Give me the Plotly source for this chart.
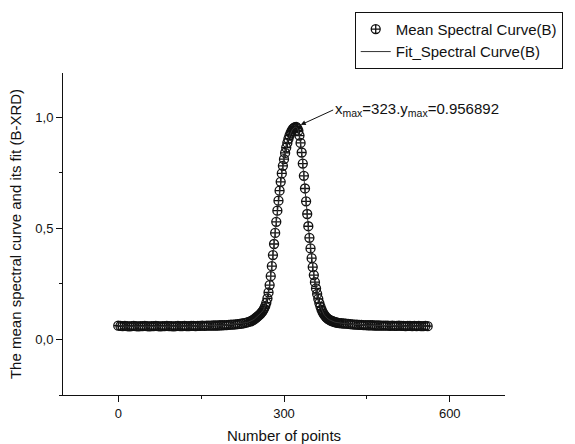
import plotly.graph_objects as go

# ---- data ----
x_points = list(range(0, 241, 4)) + list(range(242, 401, 2)) + list(range(404, 561, 4))

mean_curve = [
    # 0 .. 240 step 4
    0.062, 0.061, 0.060, 0.061, 0.060, 0.059, 0.060, 0.061, 0.060, 0.059,
    0.060, 0.060, 0.061, 0.060, 0.059, 0.060, 0.060, 0.061, 0.060, 0.059,
    0.060, 0.060, 0.061, 0.060, 0.060, 0.059, 0.060, 0.061, 0.060, 0.060,
    0.061, 0.060, 0.060, 0.061, 0.061, 0.060, 0.061, 0.061, 0.062, 0.061,
    0.062, 0.062, 0.062, 0.063, 0.063, 0.063, 0.064, 0.064, 0.065, 0.065,
    0.066, 0.067, 0.067, 0.068, 0.069, 0.070, 0.072, 0.074, 0.076, 0.079,
    0.082,
    # 242 .. 400 step 2
    0.085, 0.088, 0.091, 0.095, 0.099, 0.103, 0.107, 0.112, 0.117, 0.123,
    0.130, 0.139, 0.150, 0.165, 0.185, 0.212, 0.245, 0.285, 0.330, 0.380,
    0.430, 0.480, 0.530, 0.580, 0.625, 0.670, 0.710, 0.748, 0.782, 0.812,
    0.840, 0.864, 0.885, 0.903, 0.918, 0.930, 0.940, 0.948, 0.953, 0.956,
    0.957, 0.952, 0.940, 0.918, 0.885, 0.842, 0.792, 0.737, 0.680, 0.622,
    0.565, 0.510, 0.458, 0.410, 0.366, 0.326, 0.290, 0.258, 0.230, 0.205,
    0.183, 0.164, 0.148, 0.134, 0.123, 0.114, 0.107, 0.101, 0.096, 0.092,
    0.089, 0.086, 0.084, 0.082, 0.080, 0.078, 0.077, 0.076, 0.075, 0.074,
    # 404 .. 560 step 4
    0.073, 0.072, 0.071, 0.070, 0.069, 0.068, 0.067, 0.067, 0.066, 0.066,
    0.065, 0.065, 0.064, 0.064, 0.064, 0.063, 0.063, 0.063, 0.062, 0.062,
    0.062, 0.062, 0.061, 0.062, 0.061, 0.061, 0.062, 0.061, 0.061, 0.060,
    0.061, 0.061, 0.060, 0.061, 0.060, 0.061, 0.060, 0.060, 0.061, 0.060,
]
fit_curve = list(mean_curve)

x_ticks = [0, 300, 600]
y_ticks = [0.0, 0.5, 1.0]
peak_x = 322
peak_y = 0.957
peak_label = "x<sub>max</sub>=323.y<sub>max</sub>=0.956892"

FONT = "Liberation Sans, Arial, sans-serif"
INK = "#111111"

fig = go.Figure()
fig.add_trace(go.Scatter(
    x=x_points, y=mean_curve, mode="markers", name="Mean Spectral Curve(B)",
    marker=dict(symbol="circle-cross-open", size=9, color=INK,
                line=dict(width=1.3, color=INK)),
))
fig.add_trace(go.Scatter(
    x=x_points, y=fit_curve, mode="lines", name="Fit_Spectral Curve(B)",
    line=dict(color="#333333", width=1),
))

fig.add_annotation(
    x=peak_x, y=peak_y, xref="x", yref="y",
    text=peak_label, showarrow=True, arrowhead=2, arrowsize=1, arrowwidth=1,
    arrowcolor=INK, ax=37, ay=-17, xanchor="left", yanchor="middle",
    standoff=5, font=dict(family=FONT, size=15, color=INK),
)

fig.update_layout(
    width=575, height=444,
    margin=dict(l=63, r=67, t=70, b=49),
    paper_bgcolor="white", plot_bgcolor="white",
    separators=", ",
    font=dict(family=FONT, color=INK),
    showlegend=True,
    legend=dict(
        x=0.66, y=1.19, xanchor="left", yanchor="top",
        bordercolor=INK, borderwidth=1, bgcolor="white",
        font=dict(family=FONT, size=15, color=INK),
        tracegroupgap=0,
    ),
)

fig.update_xaxes(
    range=[-100, 700], tickvals=x_ticks, ticktext=[str(v) for v in x_ticks],
    showline=True, linecolor=INK, linewidth=1, mirror=False,
    ticks="outside", ticklen=6, tickcolor=INK, tickwidth=1,
    minor=dict(ticks="outside", ticklen=3, tickcolor=INK, dtick=150, tick0=0),
    showgrid=False, zeroline=False, automargin=False,
    tickfont=dict(family=FONT, size=13, color=INK),
    title=dict(text="Number of points", font=dict(family=FONT, size=15, color=INK),
               standoff=10),
)
fig.update_yaxes(
    range=[-0.25, 1.2], tickvals=y_ticks, tickformat=".1f",
    showline=True, linecolor=INK, linewidth=1, mirror=False,
    ticks="outside", ticklen=6, tickcolor=INK, tickwidth=1,
    minor=dict(ticks="outside", ticklen=3, tickcolor=INK, dtick=0.25, tick0=0),
    showgrid=False, zeroline=False, automargin=False,
    tickfont=dict(family=FONT, size=13, color=INK),
    title=dict(text="The mean spectral curve and its fit (B-XRD)",
               font=dict(family=FONT, size=15, color=INK), standoff=10),
)

fig.write_html("out.html")
